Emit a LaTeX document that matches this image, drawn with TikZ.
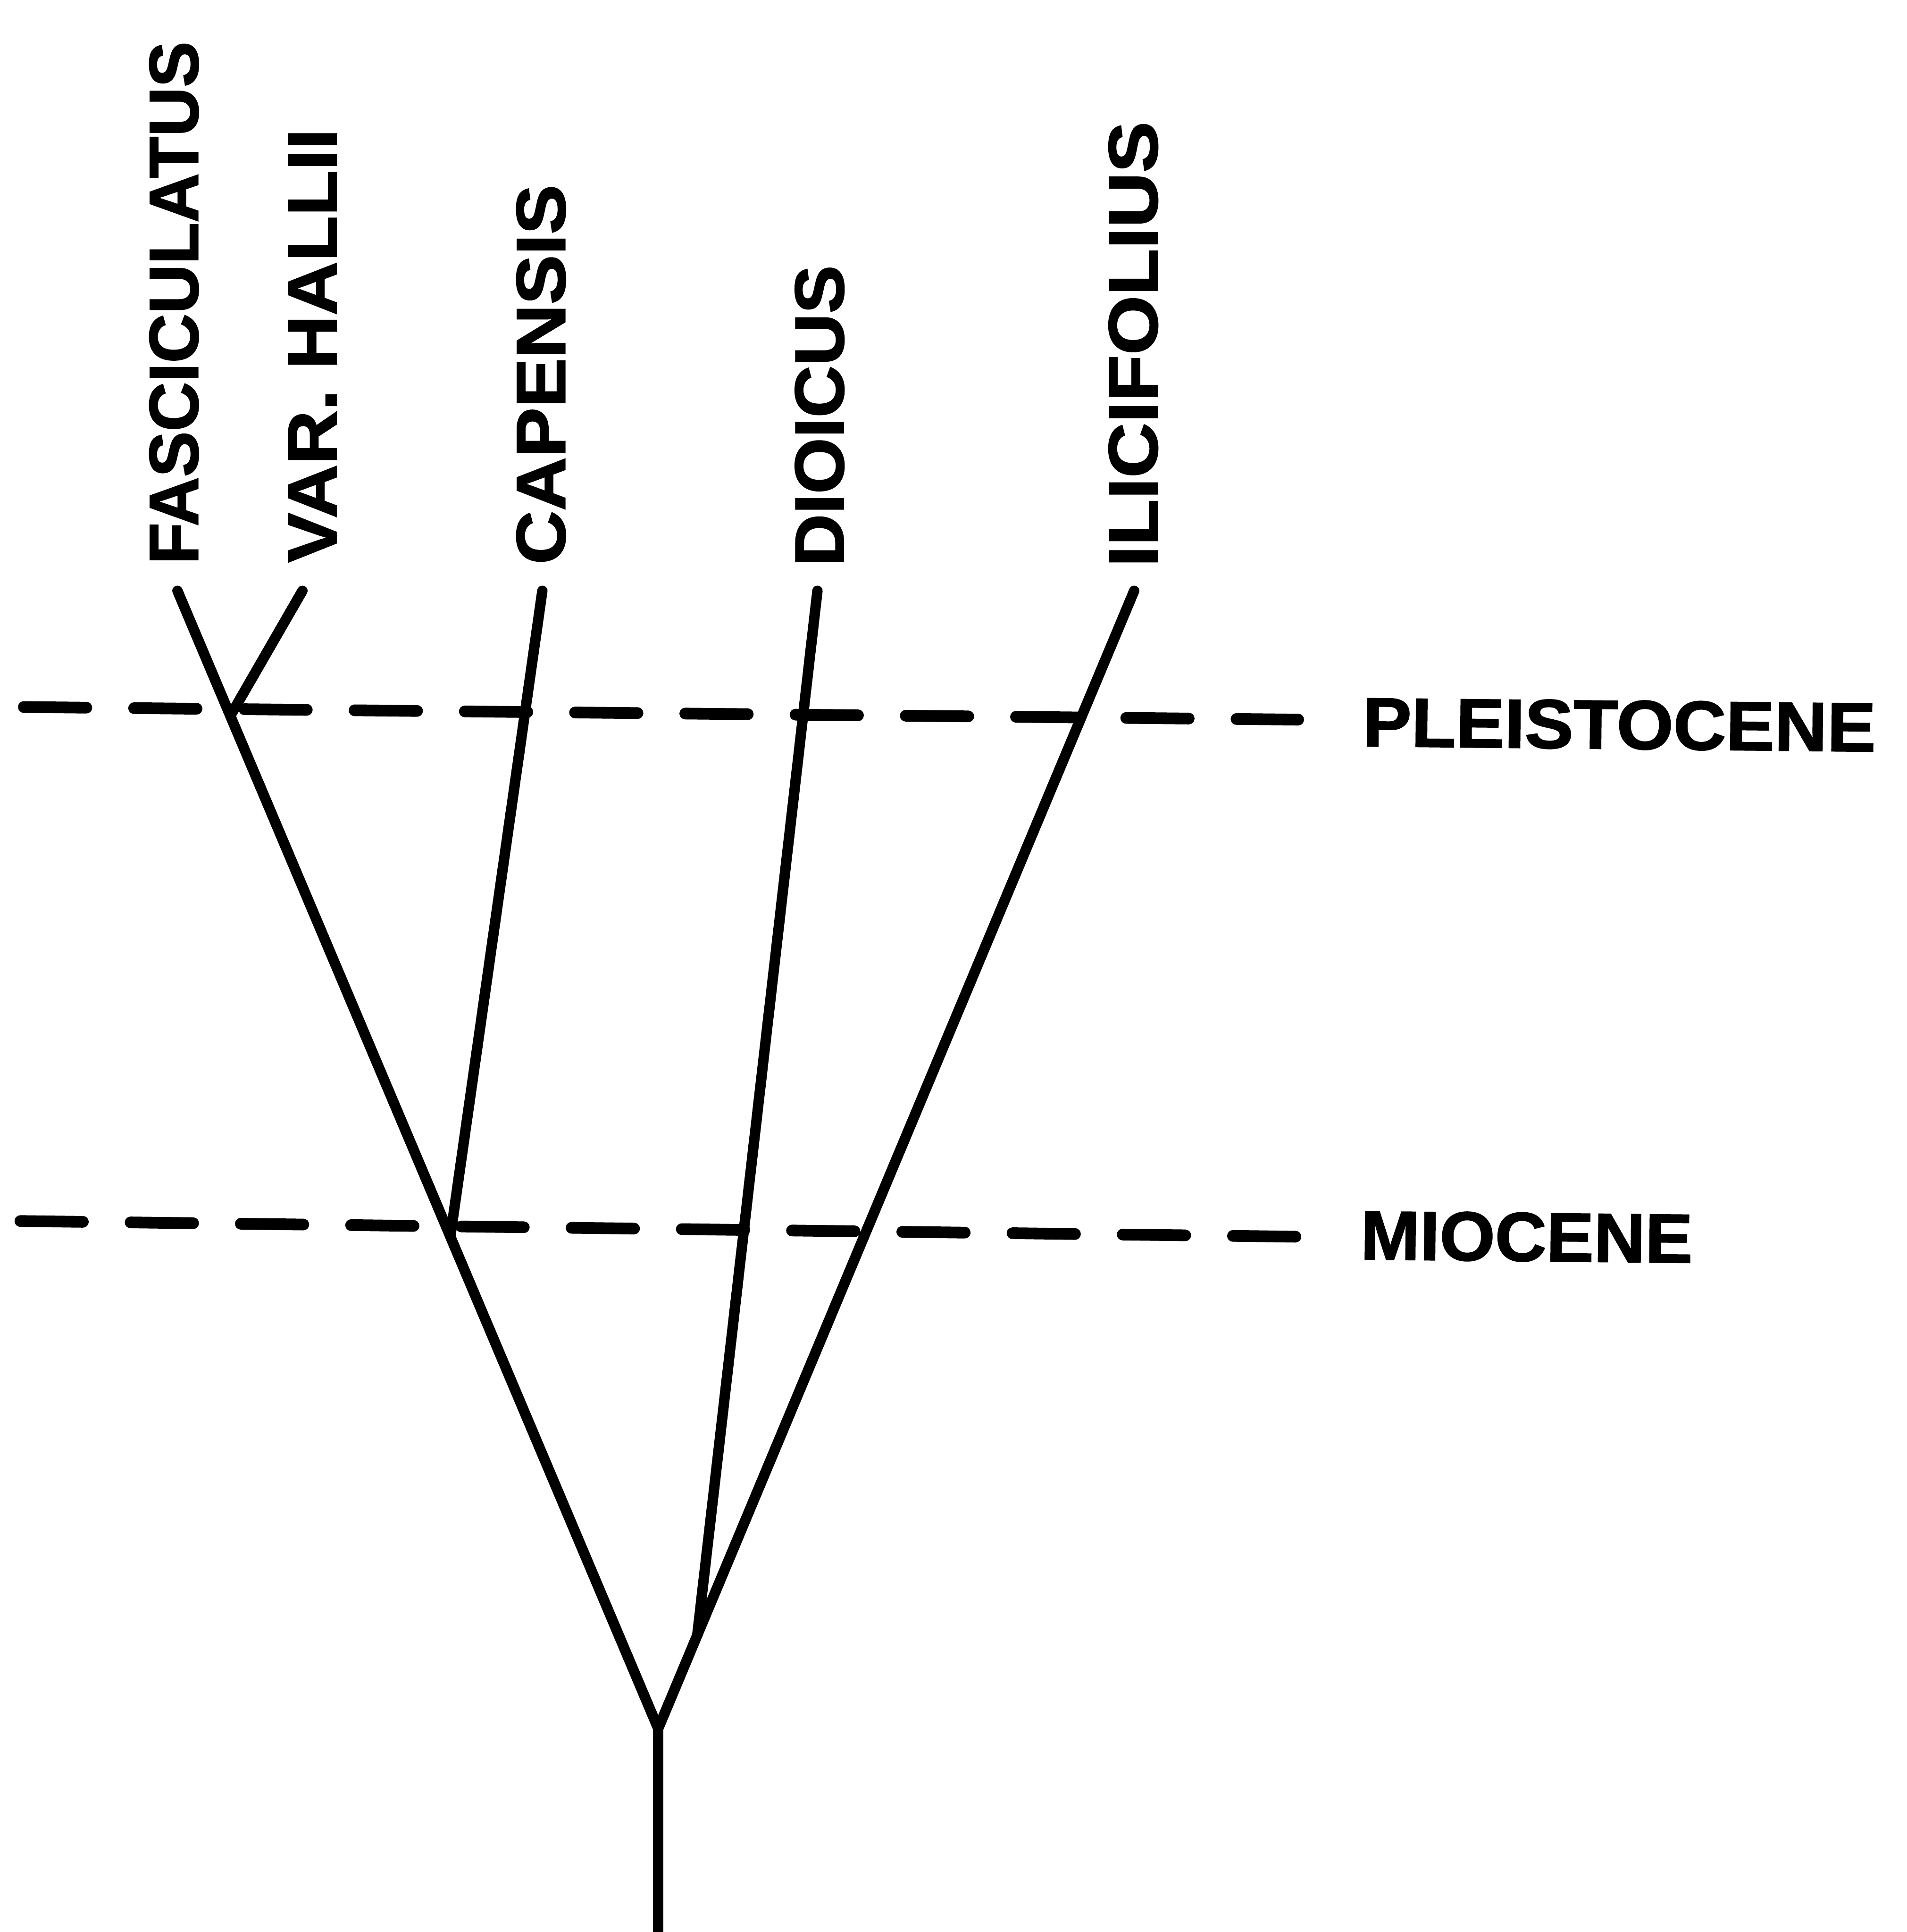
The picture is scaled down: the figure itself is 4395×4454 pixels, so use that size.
\documentclass[tikz,border=0pt]{standalone}
\usepackage{fontspec}
\setmainfont{Liberation Sans}
\newfontfamily\labfont[FakeBold=1.6]{Liberation Sans Bold}
\begin{document}
\begin{tikzpicture}[x=0.1pt,y=0.1pt,
  branch/.style={line width=2.4pt, line cap=round, line join=round},
  epoch/.style={line width=2.7pt, line cap=round, dash pattern=on 14.4pt off 11.01pt},
  lab/.style={font=\fontsize{16pt}{16pt}\selectfont\labfont, inner sep=0pt}]
\useasboundingbox[fill=white] (0,0) rectangle (4395,-4454);

% epoch lines
\coordinate (pl0) at (55,-1630);
\coordinate (pl1) at (2992,-1659);
\coordinate (mi0) at (47,-2815);
\coordinate (mi1) at (2986,-2851);
\draw[epoch] (pl0) -- (pl1);
\draw[epoch] (mi0) -- (mi1);
\node[lab, anchor=west, rotate=-0.6] (plei) at (3139,-1665) {\scalebox{1.05}[1]{PLEISTOCENE}};
\node[lab, anchor=west, rotate=-0.6] (mio) at (3134,-2848) {\scalebox{1.025}[1]{MIOCENE}};

% tree coordinates
\coordinate (base) at (1517,-4470);
\coordinate (R) at (1517,-3985);
\coordinate (ftop) at (409,-1362);
\coordinate (vbase) at (531,-1650);
\coordinate (vtop) at (697,-1362);
\coordinate (cbase) at (1038,-2850);
\coordinate (ctop) at (1250,-1362);
\coordinate (itop) at (2614,-1362);
\coordinate (dbase) at (1607,-3770);
\coordinate (dtop) at (1884,-1362);

\draw[branch] (base) -- (R);
\draw[branch] (R) -- (ftop);
\draw[branch] (R) -- (itop);
\draw[branch] (vbase) -- (vtop);
\draw[branch] (cbase) -- (ctop);
\draw[branch] (dbase) -- (dtop);

% species labels
\node[lab, anchor=west, rotate=90] (fasc) at (401,-1303) {\scalebox{0.985}[1]{FASCICULATUS}};
\node[lab, anchor=west, rotate=90] (hallii) at (720,-1299) {\scalebox{1.075}[1]{VAR. HALLII}};
\node[lab, anchor=west, rotate=90] (cap) at (1247,-1303) {\scalebox{1.07}[1]{CAPENSIS}};
\node[lab, anchor=west, rotate=90] (dio) at (1889,-1307) {\scalebox{1.04}[1]{DIOICUS}};
\node[lab, anchor=west, rotate=90] (ili) at (2612,-1309) {\scalebox{1.10}[1]{ILICIFOLIUS}};
\end{tikzpicture}
\end{document}
